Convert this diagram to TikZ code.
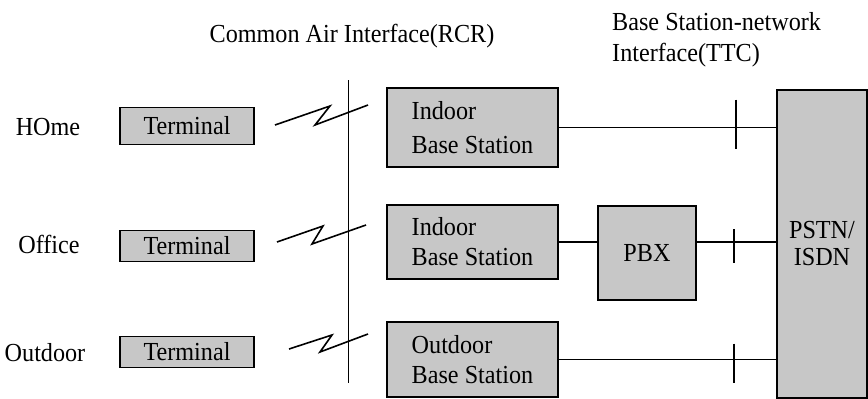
\documentclass[tikz,border=0pt]{standalone}
\usepackage{fontspec}
\setmainfont[FakeStretch=0.93]{Liberation Serif}
\begin{document}
\begin{tikzpicture}[x=1pt,y=-1pt,
  every node/.style={font=\fontsize{26}{31}\selectfont, inner sep=0pt},
  gbox/.style={draw=black, line width=1.6pt, fill=black!22, align=left},
  lbl/.style={align=left},
  conn/.style={line width=1.2pt},
  tick/.style={line width=1.6pt},
  zig/.style={line width=1.6pt, line join=miter}]
\useasboundingbox (0,0) rectangle (868,399);
% titles
\node[lbl] (t1) at (352,36) {Common Air Interface(RCR)};
\node[lbl, anchor=north west] (t2) at (612,12) {Base Station-network\\Interface(TTC)};
% row labels
\node (lh) at (48,127) {HOme};
\node (lo) at (49,244) {Office};
\node (lt) at (45,353) {Outdoor};
% terminals
\node[gbox, minimum width=134pt, minimum height=37pt] (term1) at (187,126) {Terminal};
\node[gbox, minimum width=134pt, minimum height=31pt] (term2) at (187,246) {Terminal};
\node[gbox, minimum width=134pt, minimum height=31pt] (term3) at (187,352) {Terminal};
% base stations
\node[gbox, minimum width=171pt, minimum height=79pt, font=\fontsize{26}{34}\selectfont] (bs1) at (472.5,127.5) {Indoor\\Base Station};
\node[gbox, minimum width=171pt, minimum height=74pt, font=\fontsize{26}{30}\selectfont] (bs2) at (472.5,242) {Indoor\\Base Station};
\node[gbox, minimum width=171pt, minimum height=75pt, font=\fontsize{26}{30}\selectfont] (bs3) at (472.5,359.5) {Outdoor\\Base Station};
% PBX and PSTN
\node[gbox, minimum width=98pt, minimum height=94pt] (pbx) at (647,253) {PBX};
\node[gbox, minimum width=90pt, minimum height=308pt, align=center, font=\fontsize{26}{27}\selectfont] (pstn) at (822,244) {PSTN/\\ISDN};
% air interface line
\coordinate (airtop) at (348.5,80);
\coordinate (airbot) at (348.5,383);
\draw[tick] (airtop) -- (airbot);
% zigzags
\coordinate (z1) at (275,125);
\coordinate (z2) at (277,242);
\coordinate (z3) at (289,349);
\draw[zig] (z1) -- ++(55,-19) -- ++(-15,19) -- ++(53,-20);
\draw[zig] (z2) -- ++(46,-16) -- ++(-11,18) -- ++(54,-19);
\draw[zig] (z3) -- ++(43,-14) -- ++(-12,17) -- ++(48,-18);
% network connections
\draw[conn] (bs1.east) -- (bs1.east -| pstn.west);
\draw[conn] (bs2.east) -- (bs2.east -| pbx.west);
\draw[conn] (pbx.east |- bs2.east) -- (bs2.east -| pstn.west);
\draw[conn] (bs3.east) -- (bs3.east -| pstn.west);
% interface ticks
\coordinate (k1) at (736,127.5);
\coordinate (k2) at (734,242);
\coordinate (k3) at (734,359.5);
\draw[tick] ([yshift=28pt]k1) -- ([yshift=-21pt]k1);
\draw[tick] ([yshift=13pt]k2) -- ([yshift=-21pt]k2);
\draw[tick] ([yshift=16pt]k3) -- ([yshift=-23pt]k3);
\end{tikzpicture}
\end{document}
